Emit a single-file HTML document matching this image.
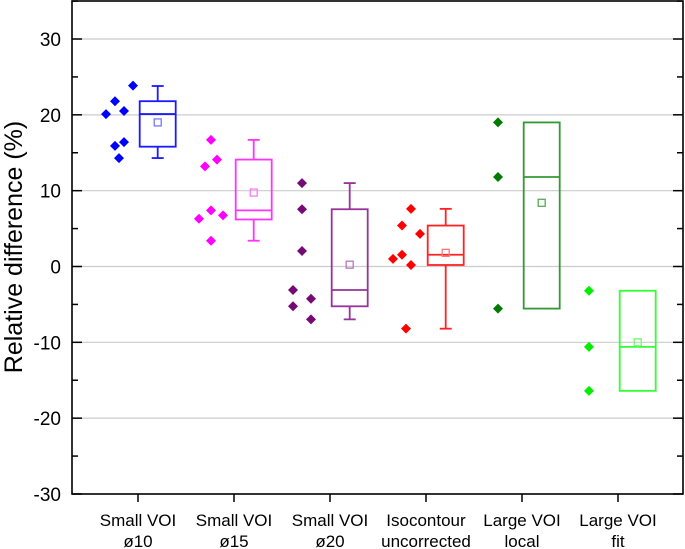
<!DOCTYPE html>
<html><head><meta charset="utf-8"><style>
body{margin:0;background:#fff;}
svg{display:block;font-family:"Liberation Sans",Arial,sans-serif;}
</style></head><body>
<svg id="chart" width="685" height="549" viewBox="0 0 685 549"></svg>
<script>
const categories=[["Small VOI","ø10"],["Small VOI","ø15"],["Small VOI","ø20"],["Isocontour","uncorrected"],["Large VOI","local"],["Large VOI","fit"]];
const points=[
 [23.85,21.8,20.1,20.5,16.4,15.9,14.3],
 [16.7,14.1,13.2,7.4,6.75,6.3,3.4],
 [11.0,7.55,2.05,-3.1,-4.25,-5.25,-6.97],
 [7.6,5.4,4.3,1.0,1.55,0.2,-8.2],
 [19.0,11.8,-5.55],
 [-3.2,-10.6,-16.4]];
const jitter=[[-5,-23,-32,-14,-14,-23,-19],[-23,-17,-29,-23,-11,-35,-23],[-28,-28,-28,-37,-19,-37,-19],[-15,-24,-6,-33,-24,-15,-20],[-24,-24,-24],[-29,-29,-29]];
const q1=[15.8,6.2,-5.25,0.2,-5.55,-16.4];
const q3=[21.8,14.1,7.55,5.4,19.0,-3.2];
const medians=[20.1,7.4,-3.1,1.55,11.8,-10.6];
const means=[19.0,9.75,0.24,1.8,8.4,-10.0];
const whiskLo=[14.3,3.4,-6.97,-8.2,-5.55,-16.4];
const whiskHi=[23.8,16.7,11.0,7.6,19.0,-3.2];
const yTicks=[30,20,10,0,-10,-20,-30];
const yMinor=[35,25,15,5,-5,-15,-25];
const ptColors=["#0000ff","#ff00ff","#750a75","#ff0000","#007a00","#00ee00"];
const boxColors=["#1a1aff","#ff33ff","#993399","#ff2222","#339933","#33ff33"];
const meanColors=["#7777ff","#ff77ff","#bb77bb","#ff7777","#55aa55","#66ff66"];

const NS="http://www.w3.org/2000/svg";
const svg=document.getElementById('chart');
const L=72,R=683,T=1,B=494;
function y(v){return 266.5-v*7.583;}
function xc(i){return 138+96*i;}
function el(tag,attrs,parent){const e=document.createElementNS(NS,tag);for(const k in attrs)e.setAttribute(k,attrs[k]);(parent||svg).appendChild(e);return e;}

yTicks.forEach(t=>{
  if(t>-30&&t<35){const g=el('line',{x1:L,x2:R,y1:y(t),y2:y(t),stroke:'#cccccc','stroke-width':1.2});
  
  }
  const tk=el('line',{x1:L,x2:L+10,y1:y(t),y2:y(t),stroke:'#000','stroke-width':1.5});
  
  
  const tr=el('line',{x1:R-10,x2:R,y1:y(t),y2:y(t),stroke:'#000','stroke-width':1.5});
  
  
  const lb=el('text',{x:61,y:y(t)+7,'text-anchor':'end','font-size':19,fill:'#000'});
  lb.textContent=t;
  
  
});
yMinor.forEach(t=>{
  const a=el('line',{x1:L,x2:L+6,y1:y(t),y2:y(t),stroke:'#000','stroke-width':1.5});
  
  
  const b=el('line',{x1:R-6,x2:R,y1:y(t),y2:y(t),stroke:'#000','stroke-width':1.5});
  
  
});
const fr=el('rect',{x:L,y:T,width:R-L,height:B-T,fill:'none',stroke:'#000','stroke-width':1.6});



const yt=el('text',{x:0,y:0,'text-anchor':'middle','font-size':25,transform:'translate(22,247) rotate(-90)',fill:'#000'});
yt.textContent='Relative difference (%)';



categories.forEach((c,i)=>{
  const x=xc(i);
  const tk=el('line',{x1:x,x2:x,y1:B,y2:B+8,stroke:'#000','stroke-width':1.5});
  
  
  c.forEach((s,j)=>{
    const t=el('text',{x:x,y:526+j*21,'text-anchor':'middle','font-size':17,fill:'#000'});
    t.textContent=s;
    
    
  });
  const bx=x+19.7,hw=18,col=boxColors[i];
  const g=el('g',{});
  
  
  if(whiskHi[i]>q3[i]){el('line',{x1:bx,x2:bx,y1:y(whiskHi[i]),y2:y(q3[i]),stroke:col,'stroke-width':1.8},g);el('line',{x1:bx-6,x2:bx+6,y1:y(whiskHi[i]),y2:y(whiskHi[i]),stroke:col,'stroke-width':1.8},g);}
  if(whiskLo[i]<q1[i]){el('line',{x1:bx,x2:bx,y1:y(q1[i]),y2:y(whiskLo[i]),stroke:col,'stroke-width':1.8},g);el('line',{x1:bx-6,x2:bx+6,y1:y(whiskLo[i]),y2:y(whiskLo[i]),stroke:col,'stroke-width':1.8},g);}
  el('rect',{x:bx-hw,y:y(q3[i]),width:2*hw,height:y(q1[i])-y(q3[i]),fill:'none',stroke:col,'stroke-width':1.8},g);
  el('line',{x1:bx-hw,x2:bx+hw,y1:y(medians[i]),y2:y(medians[i]),stroke:col,'stroke-width':1.8},g);
  const m=el('rect',{x:bx-3.5,y:y(means[i])-3.5,width:7,height:7,fill:'none',stroke:meanColors[i],'stroke-width':1.3});
  
  
  points[i].forEach((v,k)=>{
    const px=x+jitter[i][k],py=y(v);
    const p=el('polygon',{points:`${px},${py-5} ${px+5},${py} ${px},${py+5} ${px-5},${py}`,fill:ptColors[i]});
    
    
  });
});
</script>
</body></html>
